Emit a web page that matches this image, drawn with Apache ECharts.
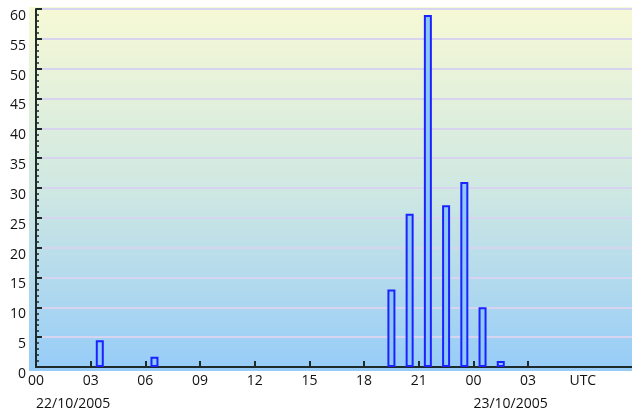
<!DOCTYPE html>
<html>
<head>
<meta charset="utf-8">
<script src="https://cdn.jsdelivr.net/npm/echarts@6/dist/echarts.min.js"></script>
<style>
  html, body { margin: 0; padding: 0; background: #fff; }
  #chart { width: 632px; height: 414px; }
</style>
</head>
<body>
<div id="chart"></div>
<script>
// hour since 00 UTC 22/10/2005, and the bar value for that hour
const hours = [3, 6, 19, 20, 21, 22, 23, 24, 25];
const values = [4.5, 1.7, 13, 25.7, 59, 27.1, 31, 10, 1];
// x tick labels every 3 hours, the last one says UTC
const hourTicks = [0, 3, 6, 9, 12, 15, 18, 21, 24, 27];
const hourLabels = ["00", "03", "06", "09", "12", "15", "18", "21", "00", "03", "UTC"];
const dateHours = [0, 24];
const dateLabels = ["22/10/2005", "23/10/2005"];

const font = "'Open Sans', 'Noto Sans', sans-serif";
const chart = echarts.init(document.getElementById("chart"));

chart.setOption({
    backgroundColor: "#fff",
    animation: false,
    graphic: [
        {
            type: "rect",
            z: -10,
            silent: true,
            shape: { x: 29, y: 7, width: 610, height: 364 },
            style: {
                fill: new echarts.graphic.LinearGradient(0, 0, 0, 1, [
                    { offset: 0, color: "#f7f9d5" },
                    { offset: 0.5, color: "#cfe8e2" },
                    { offset: 1, color: "#96ccf8" },
                ]),
            },
        },
    ],
    grid: { left: 36, right: 0, top: 9, bottom: 47 },
    xAxis: [
        {
            type: "value",
            min: 0,
            max: 32.7,
            axisLine: { show: true, lineStyle: { color: "#1f2a2a", width: 2 } },
            axisTick: {
                show: true,
                inside: true,
                length: 6,
                customValues: hourTicks,
                lineStyle: { color: "#1f2a2a", width: 2 },
            },
            splitLine: { show: false },
            axisLabel: {
                customValues: hourTicks.concat([30]),
                margin: 7,
                color: "#111",
                fontFamily: font,
                fontSize: 14,
                formatter: (v) => hourLabels[Math.round(v / 3)],
            },
        },
        {
            type: "value",
            position: "bottom",
            offset: 22,
            min: 0,
            max: 32.7,
            axisLine: { show: false },
            axisTick: { show: false },
            splitLine: { show: false },
            axisLabel: {
                customValues: dateHours,
                align: "left",
                margin: 8,
                color: "#111",
                fontFamily: font,
                fontSize: 14,
                formatter: (v) => dateLabels[dateHours.indexOf(v)],
            },
        },
    ],
    yAxis: {
        type: "value",
        min: 0,
        max: 60,
        interval: 5,
        axisLine: { show: true, lineStyle: { color: "#1f2a2a", width: 2 } },
        axisTick: { show: true, inside: true, length: 6, lineStyle: { color: "#1f2a2a", width: 2 } },
        minorTick: { show: true, splitNumber: 5, length: 3, lineStyle: { color: "#1f2a2a", width: 1.5 } },
        splitLine: { show: true, lineStyle: { color: "#d6d4ee", width: 2 } },
        axisLabel: {
            margin: 10,
            verticalAlign: "top",
            color: "#111",
            fontFamily: font,
            fontSize: 14,
        },
    },
    series: [
        {
            type: "bar",
            xAxisIndex: 0,
            barWidth: 8,
            data: hours.map((h, i) => [h + 0.5, values[i]]),
            itemStyle: {
                color: "#8dc8f9",
                borderColor: "#1c22ff",
                borderWidth: 2,
            },
        },
    ],
});
</script>
</body>
</html>
